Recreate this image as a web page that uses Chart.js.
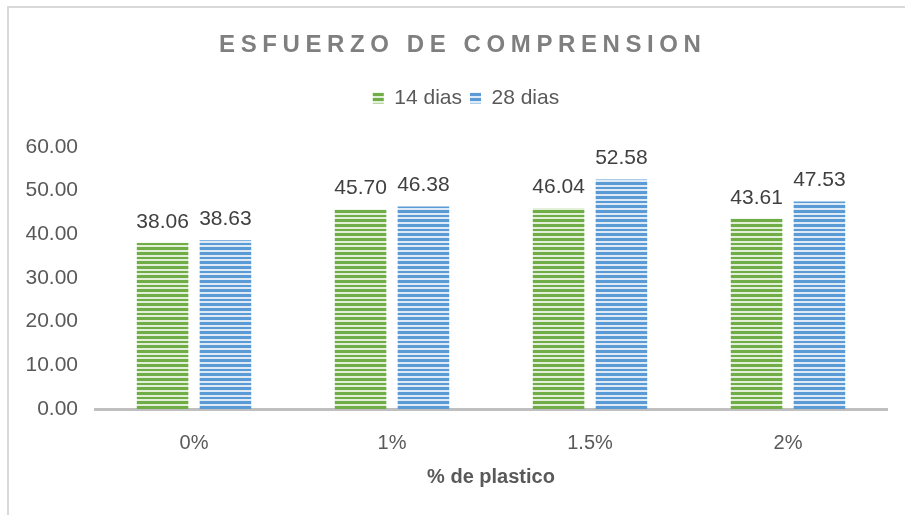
<!DOCTYPE html>
<html>
<head>
<meta charset="utf-8">
<script src="https://cdn.jsdelivr.net/npm/chart.js@4/dist/chart.umd.min.js"></script>
<style>
  html, body { margin: 0; padding: 0; background: #ffffff; }
  #wrap { width: 905px; height: 515px; position: relative; }
</style>
</head>
<body>
<div id="wrap"><canvas id="chart" width="905" height="515"></canvas></div>
<script>
// Compressive strength by plastic content, 14 and 28 days of curing
const categories = ['0%', '1%', '1.5%', '2%'];
const seriesNames = ['14 dias', '28 dias'];
const dias14 = [38.06, 45.70, 46.04, 43.61];
const dias28 = [38.63, 46.38, 52.58, 47.53];
const yMin = 0, yMax = 60, yStep = 10;
const chartTitle = 'ESFUERZO DE COMPRENSION';
const xTitle = '% de plastico';

const canvas = document.getElementById('chart');
const ctx = canvas.getContext('2d');

// Horizontal striped fill for the bars
function stripes(dark, light) {
  const c = document.createElement('canvas');
  c.width = 3; c.height = 14;
  const g = c.getContext('2d');
  g.fillStyle = light; g.fillRect(0, 0, 3, 14);
  g.fillStyle = dark; g.fillRect(0, 0, 3, 8);
  const p = ctx.createPattern(c, 'repeat');
  p.setTransform(new DOMMatrix().scale(1 / 3));
  return p;
}
const greenFill = stripes('#70ad47', '#e2efd9');
const blueFill = stripes('#5b9bd5', '#deebf7');

const SANS = '"Liberation Sans", Arial, sans-serif';

// Outer frame line along the top and left
const framePlugin = {
  id: 'frame',
  beforeDraw(chart) {
    const c = chart.ctx;
    c.save();
    c.strokeStyle = '#d9d9d9';
    c.lineWidth = 2;
    c.beginPath();
    c.moveTo(8, chart.height + 5);
    c.lineTo(8, 7);
    c.lineTo(chart.width + 5, 7);
    c.stroke();
    c.restore();
  }
};

// Letter-spaced chart title
const titlePlugin = {
  id: 'spacedTitle',
  afterDraw(chart) {
    const c = chart.ctx;
    c.save();
    c.font = 'bold 24px ' + SANS;
    c.fillStyle = '#7f7f7f';
    const sp = 5.6;
    c.letterSpacing = sp + 'px';
    const w = c.measureText(chartTitle).width - sp;
    c.textAlign = 'left';
    c.textBaseline = 'alphabetic';
    c.fillText(chartTitle, 460 - w / 2, 52);
    c.restore();
  }
};

// Place the legend row centred under the title
const legendPlace = {
  id: 'legendPlace',
  afterLayout(chart) {
    const lg = chart.legend;
    const pad = lg.options.labels.padding;
    const fs = lg.options.labels.font.size;
    const dx = 466 - (lg.left + lg.right) / 2;
    const dy = (98 - fs / 2 - pad) - lg.top;
    lg.left += dx; lg.right += dx;
    lg.top += dy; lg.bottom += dy;
  }
};

// Value labels above every bar
const valueLabels = {
  id: 'valueLabels',
  afterDatasetsDraw(chart) {
    const c = chart.ctx;
    c.save();
    c.font = '21px ' + SANS;
    c.fillStyle = '#404040';
    c.textAlign = 'center';
    c.textBaseline = 'alphabetic';
    chart.data.datasets.forEach((ds, i) => {
      chart.getDatasetMeta(i).data.forEach((bar, j) => {
        c.fillText(ds.data[j].toFixed(2), bar.x, bar.y - 15);
      });
    });
    c.restore();
  }
};

new Chart(ctx, {
  type: 'bar',
  data: {
    labels: categories,
    datasets: [
      { label: seriesNames[0], data: dias14, backgroundColor: greenFill, borderWidth: 0 },
      { label: seriesNames[1], data: dias28, backgroundColor: blueFill, borderWidth: 0 }
    ]
  },
  options: {
    responsive: false,
    animation: false,
    devicePixelRatio: 1,
    layout: { padding: { top: 108, left: 20, right: 18, bottom: 0 } },
    datasets: { bar: { categoryPercentage: 0.635, barPercentage: 0.82 } },
    plugins: {
      legend: {
        position: 'top',
        labels: {
          boxWidth: 11, boxHeight: 11, padding: 8,
          color: '#595959',
          font: { family: SANS, size: 21 }
        }
      },
      title: { display: false },
      tooltip: { enabled: false }
    },
    scales: {
      x: {
        grid: { display: false, drawTicks: false },
        border: { display: true, color: '#bfbfbf', width: 3 },
        ticks: { color: '#595959', padding: 22, font: { family: SANS, size: 20 } },
        title: {
          display: true, text: xTitle, color: '#595959',
          font: { family: SANS, size: 20, weight: 'bold' },
          padding: { top: 10, bottom: 26 }
        },
        afterFit(s) { s.height = 106; }
      },
      y: {
        min: yMin, max: yMax,
        grid: { display: false, drawTicks: false },
        border: { display: false },
        ticks: {
          stepSize: yStep, padding: 17, color: '#595959',
          font: { family: SANS, size: 21 },
          callback: v => Number(v).toFixed(2)
        },
        afterFit(s) { s.width = 75; }
      }
    }
  },
  plugins: [framePlugin, titlePlugin, legendPlace, valueLabels]
});
</script>
</body>
</html>
